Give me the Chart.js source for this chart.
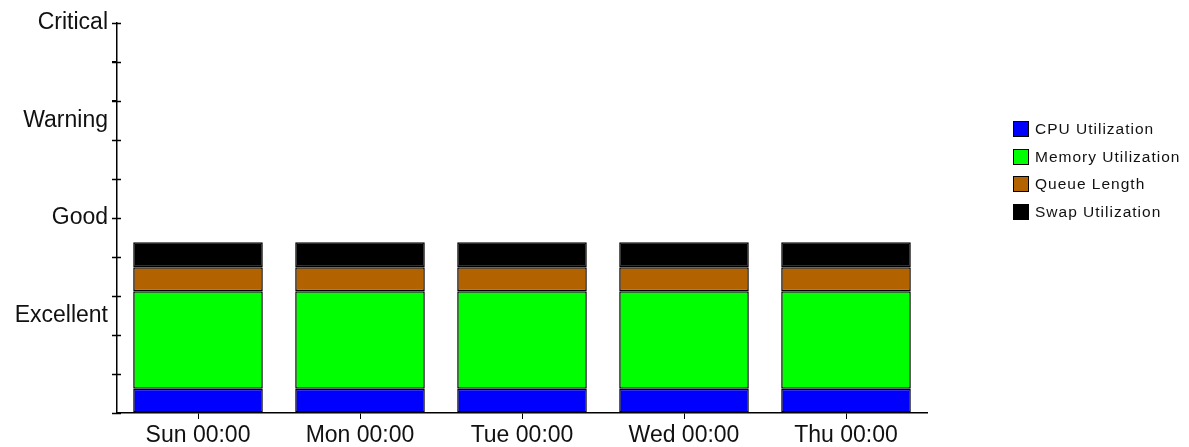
<!DOCTYPE html>
<html>
<head>
<meta charset="utf-8">
<script src="https://cdn.jsdelivr.net/npm/chart.js@4.4.1/dist/chart.umd.min.js"></script>
<style>
    html, body { margin: 0; padding: 0; background: #fff; }
    #wrap { position: relative; width: 1189px; height: 447px; }
    #legend { position: absolute; left: 1013px; top: 115px; font-family: "Liberation Sans", Arial, sans-serif; font-size: 15.5px; color: #111; letter-spacing: 1px; }
    #legend div { height: 27.7px; display: flex; align-items: center; white-space: nowrap; }
    #legend span.box { display: inline-block; width: 16px; height: 16px; border: 1px solid #000; margin-right: 6px; box-sizing: border-box; }
</style>
</head>
<body>
<div id="wrap">
    <canvas id="healthChart" width="1189" height="447"></canvas>
    <div id="legend"></div>
</div>
<script>
// categories and stacked values (health units, 0..10)
const days = ['Sun 00:00', 'Mon 00:00', 'Tue 00:00', 'Wed 00:00', 'Thu 00:00'];
const cpuUtil = [0.62, 0.62, 0.62, 0.62, 0.62];
const memUtil = [2.5, 2.5, 2.5, 2.5, 2.5];
const queueLen = [0.62, 0.62, 0.62, 0.62, 0.62];
const swapUtil = [0.64, 0.64, 0.64, 0.64, 0.64];

const levelValues = [2.5, 5, 7.5, 10];
const levelLabels = ['Excellent', 'Good', 'Warning', 'Critical'];

const series = [
    { label: 'CPU Utilization', data: cpuUtil, color: '#0000ff' },
    { label: 'Memory Utilization', data: memUtil, color: '#00ff00' },
    { label: 'Queue Length', data: queueLen, color: '#b36200' },
    { label: 'Swap Utilization', data: swapUtil, color: '#000000' }
];

const FONT = '"Liberation Sans", Arial, sans-serif';

// inner half of the y axis tick marks
const innerTicks = {
    id: 'innerTicks',
    afterDraw(chart) {
        const y = chart.scales.y;
        const x0 = chart.chartArea.left;
        const ctx = chart.ctx;
        ctx.save();
        ctx.strokeStyle = '#000';
        ctx.lineWidth = 1.5;
        y.ticks.forEach(t => {
            if (t.value === 2.5 || t.value === 7.5) return;
            const py = Math.round(y.getPixelForValue(t.value)) + 0.5;
            ctx.beginPath();
            ctx.moveTo(x0 - 5, py);
            ctx.lineTo(x0 + 4, py);
            ctx.stroke();
        });
        ctx.restore();
    }
};

new Chart(document.getElementById('healthChart'), {
    type: 'bar',
    data: {
        labels: days,
        datasets: series.map(s => ({
            label: s.label,
            data: s.data,
            backgroundColor: s.color,
            borderColor: '#000',
            borderWidth: 1.5,
            borderSkipped: false,
            categoryPercentage: 0.8,
            barPercentage: 1
        }))
    },
    options: {
        responsive: false,
        animation: false,
        layout: { padding: { top: 23, right: 262, left: 0, bottom: 0 } },
        plugins: {
            legend: { display: false },
            tooltip: { enabled: false }
        },
        scales: {
            x: {
                stacked: true,
                afterFit: s => { s.height = 34; },
                grid: { offset: false, drawOnChartArea: false, tickLength: 6, tickColor: '#000' },
                border: { color: '#000', width: 1.5 },
                ticks: { color: '#111', padding: 3, font: { family: FONT, size: 23 } }
            },
            y: {
                stacked: true,
                min: 0,
                max: 10,
                afterFit: s => { s.width = 117; },
                afterBuildTicks: s => {
                    const vals = [0, 1, 2, 2.5, 3, 4, 5, 6, 7, 7.5, 8, 9, 10];
                    s.ticks = vals.map(v => ({ value: v }));
                },
                grid: {
                    drawOnChartArea: false,
                    tickLength: 5,
                    tickColor: c => (c.tick && (c.tick.value === 2.5 || c.tick.value === 7.5)) ? 'rgba(0,0,0,0)' : '#000'
                },
                border: { color: '#000', width: 1.5 },
                ticks: {
                    color: '#111',
                    padding: 4,
                    autoSkip: false,
                    font: { family: FONT, size: 23 },
                    callback: v => {
                        const i = levelValues.indexOf(v);
                        return i >= 0 ? levelLabels[i] : '';
                    }
                }
            }
        }
    },
    plugins: [innerTicks]
});

const legend = document.getElementById('legend');
series.forEach(s => {
    const row = document.createElement('div');
    row.innerHTML = `<span class="box" style="background:${s.color}"></span>${s.label}`;
    legend.appendChild(row);
});
</script>
</body>
</html>
